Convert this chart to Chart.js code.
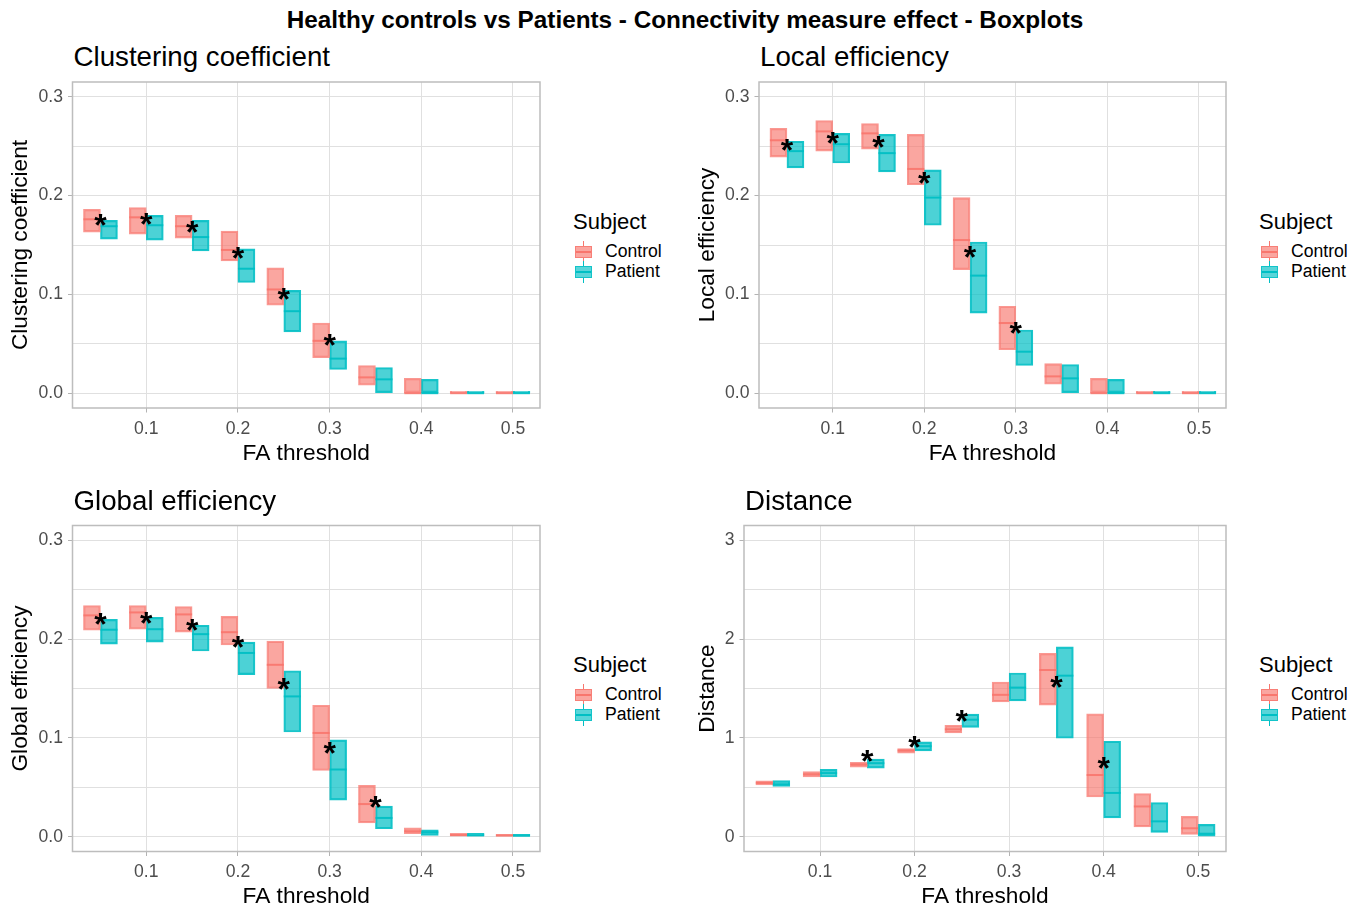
<!DOCTYPE html>
<html>
<head>
<meta charset="utf-8">
<script src="https://cdn.jsdelivr.net/npm/chart.js@4.4.1/dist/chart.umd.min.js"></script>
<style>
  body { margin: 0; background: #fff; font-family: "Liberation Sans", Arial, sans-serif; }
  #page { position: relative; width: 1359px; height: 912px; overflow: hidden; }
  canvas { position: absolute; }
  .txt { position: absolute; white-space: nowrap; color: #000; line-height: 1; }
  .main { font-weight: bold; font-size: 24.3px; left: 0; width: 1370px; text-align: center; top: 8px; }
  .ptitle { font-size: 27.7px; }
  .legt { font-size: 22px; }
  .legi { font-size: 17.6px; }
  .key { position: absolute; width: 15px; height: 10px; border: 1px solid; }
  .key .med { position: absolute; left: 0; right: 0; top: 4px; height: 2px; }
  .key .wh { position: absolute; left: 7px; width: 1px; height: 5px; }
</style>
</head>
<body>
<div id="page">
  <div class="txt main">Healthy controls vs Patients - Connectivity measure effect - Boxplots</div>
  <canvas id="c1" width="545" height="395" style="left:0;top:75px"></canvas>
  <canvas id="c2" width="545" height="395" style="left:686px;top:75px"></canvas>
  <canvas id="c3" width="545" height="397" style="left:0;top:515px"></canvas>
  <canvas id="c4" width="559" height="397" style="left:672px;top:515px"></canvas>
</div>
<script>
var thresholds = [0.05, 0.1, 0.15, 0.2, 0.25, 0.3, 0.35, 0.4, 0.45, 0.5];
var xTickVals = [0.1, 0.2, 0.3, 0.4, 0.5];
var xTickLabels = ['0.1', '0.2', '0.3', '0.4', '0.5'];
var effTickVals = [0, 0.05, 0.1, 0.15, 0.2, 0.25, 0.3];
var effTickLabels = ['0.0', '', '0.1', '', '0.2', '', '0.3'];
var distTickVals = [0, 0.5, 1, 1.5, 2, 2.5, 3];
var distTickLabels = ['0', '', '1', '', '2', '', '3'];
var groups = ['Control', 'Patient'];

// Clustering coefficient
var ccCtrlLo = [0.163, 0.161, 0.157, 0.134, 0.089, 0.036, 0.008, 0, 0, 0];
var ccCtrlMed = [0.176, 0.178, 0.169, 0.145, 0.105, 0.053, 0.016, 0, 0, 0];
var ccCtrlHi = [0.186, 0.188, 0.180, 0.164, 0.127, 0.071, 0.028, 0.015, 0.002, 0.002];
var ccPatLo = [0.156, 0.155, 0.144, 0.112, 0.062, 0.024, 0, 0, 0, 0];
var ccPatMed = [0.169, 0.170, 0.158, 0.126, 0.083, 0.035, 0.014, 0, 0, 0];
var ccPatHi = [0.175, 0.180, 0.175, 0.146, 0.104, 0.053, 0.026, 0.014, 0.002, 0.002];
var ccStarX = [0.05, 0.1, 0.15, 0.2, 0.25, 0.3];
var ccStarY = [0.175, 0.176, 0.168, 0.142, 0.100, 0.054];

// Local efficiency
var leCtrlLo = [0.239, 0.245, 0.247, 0.211, 0.125, 0.044, 0.009, 0, 0, 0];
var leCtrlMed = [0.256, 0.265, 0.263, 0.227, 0.155, 0.071, 0.017, 0, 0, 0];
var leCtrlHi = [0.268, 0.276, 0.273, 0.262, 0.198, 0.088, 0.030, 0.015, 0.002, 0.002];
var lePatLo = [0.228, 0.233, 0.224, 0.170, 0.081, 0.028, 0, 0, 0, 0];
var lePatMed = [0.245, 0.252, 0.243, 0.198, 0.119, 0.042, 0.015, 0, 0, 0];
var lePatHi = [0.255, 0.263, 0.262, 0.226, 0.153, 0.064, 0.029, 0.014, 0.002, 0.002];
var leStarX = [0.05, 0.1, 0.15, 0.2, 0.25, 0.3];
var leStarY = [0.251, 0.258, 0.254, 0.218, 0.143, 0.066];

// Global efficiency
var geCtrlLo = [0.209, 0.210, 0.207, 0.194, 0.150, 0.067, 0.014, 0.003, 0.0004, 0.0004];
var geCtrlMed = [0.224, 0.227, 0.225, 0.207, 0.174, 0.105, 0.033, 0.0055, 0.0017, 0.0012];
var geCtrlHi = [0.234, 0.234, 0.233, 0.223, 0.198, 0.133, 0.052, 0.009, 0.0034, 0.0024];
var gePatLo = [0.195, 0.197, 0.188, 0.164, 0.106, 0.037, 0.008, 0.0014, 0.0004, 0];
var gePatMed = [0.2095, 0.210, 0.205, 0.186, 0.142, 0.068, 0.019, 0.0045, 0.0015, 0.001];
var gePatHi = [0.220, 0.222, 0.214, 0.197, 0.168, 0.098, 0.031, 0.007, 0.0034, 0.0024];
var geStarX = [0.05, 0.1, 0.15, 0.2, 0.25, 0.3, 0.35];
var geStarY = [0.220, 0.221, 0.214, 0.197, 0.155, 0.0895, 0.035];

// Distance
var diCtrlLo = [0.525, 0.604, 0.704, 0.845, 1.050, 1.365, 1.332, 0.402, 0.100, 0.024];
var diCtrlMed = [0.545, 0.631, 0.731, 0.872, 1.087, 1.436, 1.687, 0.624, 0.306, 0.085];
var diCtrlHi = [0.565, 0.658, 0.752, 0.892, 1.127, 1.566, 1.855, 1.244, 0.437, 0.205];
var diPatLo = [0.510, 0.604, 0.694, 0.869, 1.107, 1.375, 0.996, 0.191, 0.044, 0.0];
var diPatMed = [0.530, 0.644, 0.744, 0.916, 1.184, 1.509, 1.630, 0.443, 0.155, 0.030];
var diPatHi = [0.567, 0.681, 0.785, 0.960, 1.241, 1.657, 1.922, 0.966, 0.346, 0.125];
var diStarX = [0.15, 0.2, 0.25, 0.35, 0.4];
var diStarY = [0.812, 0.963, 1.224, 1.563, 0.744];

var FONT = '"Liberation Sans", Arial, sans-serif';
var CTRL = '248,118,109';
var PAT = '0,191,196';

var medianPlugin = {
    id: 'medians',
    afterDatasetsDraw: function(chart) {
        var ctx = chart.ctx;
        var yScale = chart.scales.y;
        chart.data.datasets.forEach(function(ds, i) {
            if (!ds.medians) return;
            var meta = chart.getDatasetMeta(i);
            ctx.save();
            ctx.strokeStyle = ds.medianColor;
            ctx.lineWidth = 2;
            meta.data.forEach(function(bar, j) {
                var py = yScale.getPixelForValue(ds.medians[j]);
                ctx.beginPath();
                ctx.moveTo(bar.x - bar.width / 2, py);
                ctx.lineTo(bar.x + bar.width / 2, py);
                ctx.stroke();
            });
            ctx.restore();
        });
    }
};

var starPlugin = {
    id: 'stars',
    afterDatasetsDraw: function(chart) {
        var ctx = chart.ctx;
        chart.data.datasets.forEach(function(ds, i) {
            if (ds.type !== 'scatter') return;
            var meta = chart.getDatasetMeta(i);
            ctx.save();
            ctx.font = 'bold 32px ' + FONT;
            ctx.fillStyle = '#000';
            ctx.textAlign = 'center';
            ctx.textBaseline = 'alphabetic';
            var m = ctx.measureText('*');
            var shift = (m.actualBoundingBoxAscent - m.actualBoundingBoxDescent) / 2;
            meta.data.forEach(function(pt) {
                ctx.fillText('*', pt.x, pt.y + shift);
            });
            ctx.restore();
        });
    }
};

var borderPlugin = {
    id: 'panelBorder',
    afterDraw: function(chart) {
        var a = chart.chartArea;
        var ctx = chart.ctx;
        ctx.save();
        ctx.strokeStyle = '#bdbdbd';
        ctx.lineWidth = 1.5;
        ctx.strokeRect(a.left, a.top, a.right - a.left, a.bottom - a.top);
        ctx.restore();
    }
};

function boxData(lo, hi) {
    return thresholds.map(function(t, i) { return {x: t, y: [lo[i], hi[i]]}; });
}

function noPad(s) {
    s.paddingTop = 0;
    s.paddingBottom = 0;
    s.paddingLeft = 0;
    s.paddingRight = 0;
}

function makePanel(p) {
    var canvas = document.getElementById(p.id);
    var cl = parseFloat(canvas.style.left), ct = parseFloat(canvas.style.top);
    var cw = canvas.width, ch = canvas.height;
    var yLabels = p.yLabels;

    // titles and legend as page text
    var page = document.getElementById('page');
    var t = document.createElement('div');
    t.className = 'txt ptitle';
    t.textContent = p.title;
    t.style.left = (p.plot[0] + 1) + 'px';
    t.style.top = (p.plot[1] - 39) + 'px';
    page.appendChild(t);

    var lx = p.legend[0], ly = p.legend[1];
    var lt = document.createElement('div');
    lt.className = 'txt legt';
    lt.textContent = 'Subject';
    lt.style.left = lx + 'px';
    lt.style.top = (ly - 11) + 'px';
    page.appendChild(lt);
    groups.forEach(function(g, k) {
        var col = k === 0 ? CTRL : PAT;
        var ky = ly + 24 + k * 19.5;
        var key = document.createElement('div');
        key.className = 'key';
        key.style.left = (lx + 2) + 'px';
        key.style.top = ky + 'px';
        key.style.background = 'rgba(' + col + ',0.65)';
        key.style.borderColor = 'rgba(' + col + ',0.8)';
        key.innerHTML = '<div class="med" style="background:rgb(' + col + ')"></div>' +
            '<div class="wh" style="top:-6px;background:rgb(' + col + ')"></div>' +
            '<div class="wh" style="top:11px;background:rgb(' + col + ')"></div>';
        page.appendChild(key);
        var lab = document.createElement('div');
        lab.className = 'txt legi';
        lab.textContent = g;
        lab.style.left = (lx + 32) + 'px';
        lab.style.top = (ky - 3) + 'px';
        page.appendChild(lab);
    });

    return new Chart(canvas, {
        type: 'bar',
        data: {
            datasets: [{
                label: 'Control',
                data: boxData(p.ctrlLo, p.ctrlHi),
                medians: p.ctrlMed,
                medianColor: 'rgba(' + CTRL + ',0.9)',
                backgroundColor: 'rgba(' + CTRL + ',0.65)',
                borderColor: 'rgba(' + CTRL + ',0.75)',
                borderWidth: 1.5,
                borderSkipped: false,
                barThickness: 17,
                stack: 'c'
            }, {
                label: 'Patient',
                data: boxData(p.patLo, p.patHi),
                medians: p.patMed,
                medianColor: 'rgba(' + PAT + ',0.95)',
                backgroundColor: 'rgba(' + PAT + ',0.7)',
                borderColor: 'rgba(' + PAT + ',0.9)',
                borderWidth: 1.5,
                borderSkipped: false,
                barThickness: 17,
                stack: 'p'
            }, {
                type: 'scatter',
                label: 'signif',
                data: p.starX.map(function(x, i) { return {x: x, y: p.starY[i]}; }),
                pointRadius: 0,
                pointHoverRadius: 0
            }]
        },
        options: {
            responsive: false,
            animation: false,
            events: [],
            layout: {padding: {left: 0, top: p.plot[1] - ct, right: cl + cw - p.plot[2], bottom: 0}},
            plugins: {legend: {display: false}, tooltip: {enabled: false}},
            scales: {
                x: {
                    type: 'linear',
                    min: 0.0195,
                    max: 0.5295,
                    offset: false,
                    afterBuildTicks: function(s) { s.ticks = xTickVals.map(function(v) { return {value: v}; }); },
                    afterFit: function(s) { s.height = ct + ch - p.plot[3]; noPad(s); },
                    border: {display: false},
                    grid: {offset: false, color: '#e0e0e0', lineWidth: 1, tickLength: 4.5, tickColor: '#b3b3b3'},
                    ticks: {
                        color: '#4d4d4d', padding: 6, maxRotation: 0,
                        font: {family: FONT, size: 17.6},
                        callback: function(v, i) { return xTickLabels[i]; }
                    },
                    title: {display: true, text: 'FA threshold', color: '#000',
                        font: {family: FONT, size: 22.7}, padding: {top: 0, bottom: ct + ch - p.xTitleY - 13.6}}
                },
                y: {
                    type: 'linear',
                    stacked: false,
                    min: p.yMin,
                    max: p.yMax,
                    afterBuildTicks: function(s) { s.ticks = p.yTicks.map(function(v) { return {value: v}; }); },
                    afterFit: function(s) { s.width = p.plot[0] - cl; noPad(s); },
                    border: {display: false},
                    grid: {
                        color: '#e0e0e0', lineWidth: 1, tickLength: 4.5,
                        tickColor: function(c) { return yLabels[c.index] ? '#b3b3b3' : 'rgba(0,0,0,0)'; }
                    },
                    ticks: {
                        color: '#4d4d4d', padding: 5,
                        font: {family: FONT, size: 17.6},
                        callback: function(v, i) { return yLabels[i]; }
                    },
                    title: {display: true, text: p.yTitle, color: '#000',
                        font: {family: FONT, size: 22.7}, padding: {top: p.yTitleX - cl - 13.6, bottom: 0}}
                }
            }
        },
        plugins: [medianPlugin, starPlugin, borderPlugin]
    });
}

makePanel({id: 'c1', title: 'Clustering coefficient', yTitle: 'Clustering coefficient',
    plot: [72.5, 82, 540, 408], xTitleY: 454, yTitleX: 21, legend: [573, 222],
    yMin: -0.015, yMax: 0.315, yTicks: effTickVals, yLabels: effTickLabels,
    ctrlLo: ccCtrlLo, ctrlMed: ccCtrlMed, ctrlHi: ccCtrlHi,
    patLo: ccPatLo, patMed: ccPatMed, patHi: ccPatHi, starX: ccStarX, starY: ccStarY});

makePanel({id: 'c2', title: 'Local efficiency', yTitle: 'Local efficiency',
    plot: [759, 82, 1226, 408], xTitleY: 454, yTitleX: 707.5, legend: [1259, 222],
    yMin: -0.015, yMax: 0.315, yTicks: effTickVals, yLabels: effTickLabels,
    ctrlLo: leCtrlLo, ctrlMed: leCtrlMed, ctrlHi: leCtrlHi,
    patLo: lePatLo, patMed: lePatMed, patHi: lePatHi, starX: leStarX, starY: leStarY});

makePanel({id: 'c3', title: 'Global efficiency', yTitle: 'Global efficiency',
    plot: [72.5, 525.5, 540, 851.5], xTitleY: 897, yTitleX: 21, legend: [573, 665],
    yMin: -0.015, yMax: 0.315, yTicks: effTickVals, yLabels: effTickLabels,
    ctrlLo: geCtrlLo, ctrlMed: geCtrlMed, ctrlHi: geCtrlHi,
    patLo: gePatLo, patMed: gePatMed, patHi: gePatHi, starX: geStarX, starY: geStarY});

makePanel({id: 'c4', title: 'Distance', yTitle: 'Distance',
    plot: [744, 525.5, 1226, 851.5], xTitleY: 897, yTitleX: 707.5, legend: [1259, 665],
    yMin: -0.15, yMax: 3.15, yTicks: distTickVals, yLabels: distTickLabels,
    ctrlLo: diCtrlLo, ctrlMed: diCtrlMed, ctrlHi: diCtrlHi,
    patLo: diPatLo, patMed: diPatMed, patHi: diPatHi, starX: diStarX, starY: diStarY});
</script>
</body>
</html>
